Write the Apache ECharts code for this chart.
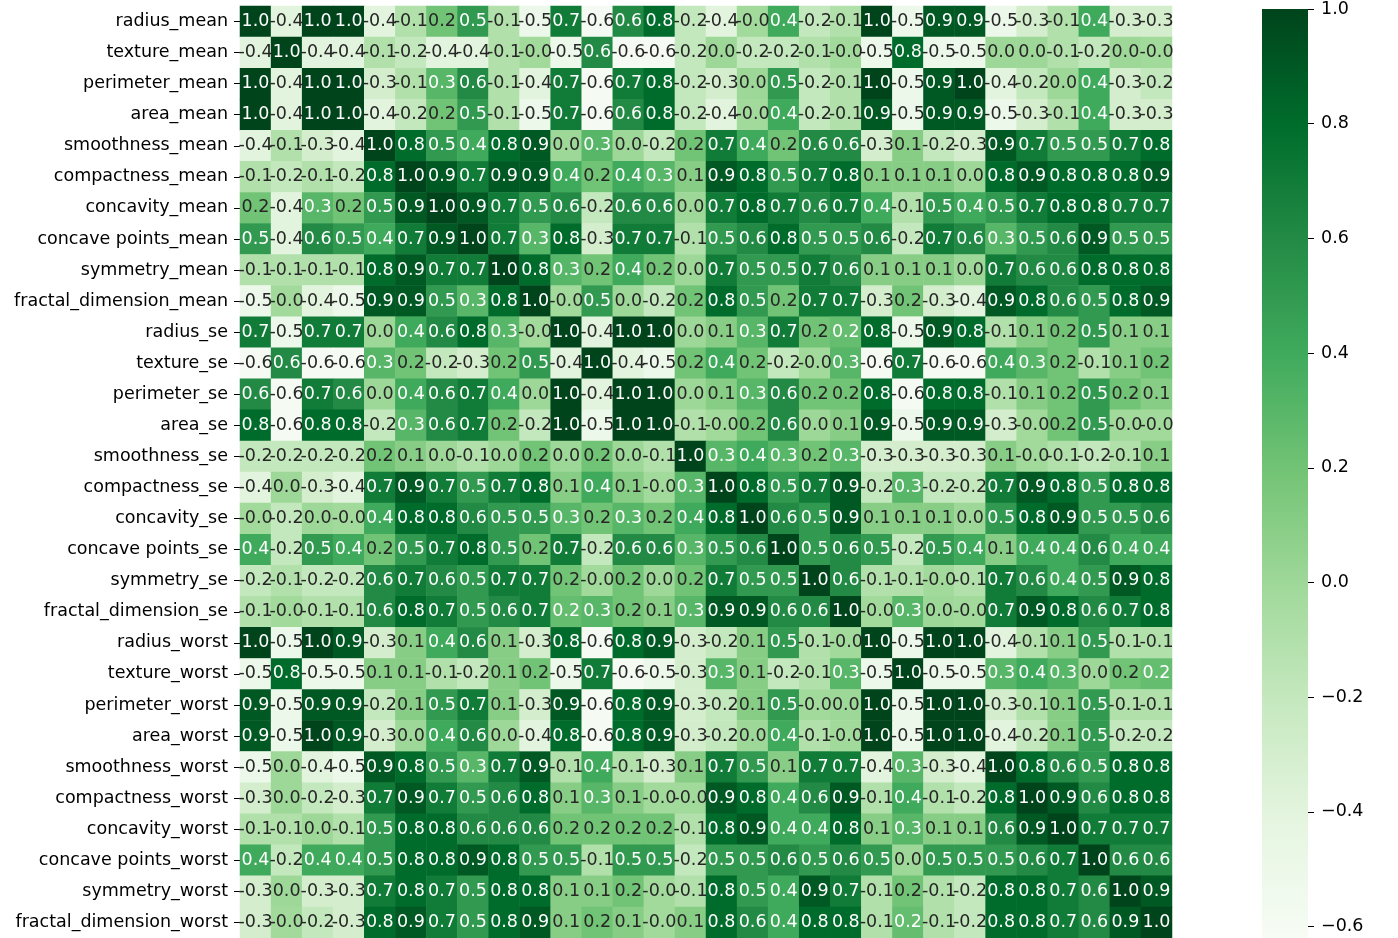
<!DOCTYPE html>
<html>
<head>
<meta charset="utf-8">
<script src="https://cdn.jsdelivr.net/npm/echarts@6/dist/echarts.min.js"></script>
<style>
  html, body { margin: 0; padding: 0; background: #ffffff; }
  #chart { width: 1398px; height: 938px; }
</style>
</head>
<body>
<div id="chart"></div>
<script>
// ---------- data ----------
const features = [
  'radius_mean', 'texture_mean', 'perimeter_mean', 'area_mean', 'smoothness_mean',
  'compactness_mean', 'concavity_mean', 'concave points_mean', 'symmetry_mean', 'fractal_dimension_mean',
  'radius_se', 'texture_se', 'perimeter_se', 'area_se', 'smoothness_se',
  'compactness_se', 'concavity_se', 'concave points_se', 'symmetry_se', 'fractal_dimension_se',
  'radius_worst', 'texture_worst', 'perimeter_worst', 'area_worst', 'smoothness_worst',
  'compactness_worst', 'concavity_worst', 'concave points_worst', 'symmetry_worst', 'fractal_dimension_worst'
];

const row_radius_mean = [1.0,-0.4,1.0,1.0,-0.4,-0.1,0.2,0.5,-0.1,-0.5, 0.7,-0.6,0.6,0.8,-0.2,-0.4,-0.02,0.4,-0.2,-0.1, 1.0,-0.5,0.9,0.9,-0.5,-0.3,-0.1,0.4,-0.3,-0.3];
const row_texture_mean = [-0.4,1.0,-0.4,-0.4,-0.1,-0.2,-0.4,-0.4,-0.1,-0.02, -0.5,0.6,-0.6,-0.6,-0.2,0.0,-0.2,-0.2,-0.1,-0.02, -0.5,0.8,-0.5,-0.5,0.0,0.0,-0.1,-0.2,0.0,-0.02];
const row_perimeter_mean = [1.0,-0.4,1.0,1.0,-0.3,-0.1,0.3,0.6,-0.1,-0.4, 0.7,-0.6,0.7,0.8,-0.2,-0.3,0.0,0.5,-0.2,-0.1, 1.0,-0.5,0.9,1.0,-0.4,-0.2,0.0,0.4,-0.3,-0.2];
const row_area_mean = [1.0,-0.4,1.0,1.0,-0.4,-0.2,0.2,0.5,-0.1,-0.5, 0.7,-0.6,0.6,0.8,-0.2,-0.4,-0.02,0.4,-0.2,-0.1, 0.9,-0.5,0.9,0.9,-0.5,-0.3,-0.1,0.4,-0.3,-0.3];
const row_smoothness_mean = [-0.4,-0.1,-0.3,-0.4,1.0,0.8,0.5,0.4,0.8,0.9, 0.0,0.3,0.0,-0.2,0.2,0.7,0.4,0.2,0.6,0.6, -0.3,0.1,-0.2,-0.3,0.9,0.7,0.5,0.5,0.7,0.8];
const row_compactness_mean = [-0.1,-0.2,-0.1,-0.2,0.8,1.0,0.9,0.7,0.9,0.9, 0.4,0.2,0.4,0.3,0.1,0.9,0.8,0.5,0.7,0.8, 0.1,0.1,0.1,0.0,0.8,0.9,0.8,0.8,0.8,0.9];
const row_concavity_mean = [0.2,-0.4,0.3,0.2,0.5,0.9,1.0,0.9,0.7,0.5, 0.6,-0.2,0.6,0.6,0.0,0.7,0.8,0.7,0.6,0.7, 0.4,-0.1,0.5,0.4,0.5,0.7,0.8,0.8,0.7,0.7];
const row_concave_points_mean = [0.5,-0.4,0.6,0.5,0.4,0.7,0.9,1.0,0.7,0.3, 0.8,-0.3,0.7,0.7,-0.1,0.5,0.6,0.8,0.5,0.5, 0.6,-0.2,0.7,0.6,0.3,0.5,0.6,0.9,0.5,0.5];
const row_symmetry_mean = [-0.1,-0.1,-0.1,-0.1,0.8,0.9,0.7,0.7,1.0,0.8, 0.3,0.2,0.4,0.2,0.0,0.7,0.5,0.5,0.7,0.6, 0.1,0.1,0.1,0.0,0.7,0.6,0.6,0.8,0.8,0.8];
const row_fractal_dimension_mean = [-0.5,-0.02,-0.4,-0.5,0.9,0.9,0.5,0.3,0.8,1.0, -0.02,0.5,0.0,-0.2,0.2,0.8,0.5,0.2,0.7,0.7, -0.3,0.2,-0.3,-0.4,0.9,0.8,0.6,0.5,0.8,0.9];
const row_radius_se = [0.7,-0.5,0.7,0.7,0.0,0.4,0.6,0.8,0.3,-0.02, 1.0,-0.4,1.0,1.0,0.0,0.1,0.3,0.7,0.2,0.249, 0.8,-0.5,0.9,0.8,-0.1,0.1,0.2,0.5,0.1,0.1];
const row_texture_se = [-0.6,0.6,-0.6,-0.6,0.3,0.2,-0.2,-0.3,0.2,0.5, -0.4,1.0,-0.4,-0.5,0.2,0.4,0.2,-0.2,-0.02,0.3, -0.6,0.7,-0.6,-0.6,0.4,0.3,0.2,-0.1,0.1,0.2];
const row_perimeter_se = [0.6,-0.6,0.7,0.6,0.0,0.4,0.6,0.7,0.4,0.0, 1.0,-0.4,1.0,1.0,0.0,0.1,0.3,0.6,0.2,0.2, 0.8,-0.6,0.8,0.8,-0.1,0.1,0.2,0.5,0.2,0.1];
const row_area_se = [0.8,-0.6,0.8,0.8,-0.2,0.3,0.6,0.7,0.2,-0.2, 1.0,-0.5,1.0,1.0,-0.1,-0.02,0.2,0.6,0.0,0.1, 0.9,-0.5,0.9,0.9,-0.3,-0.02,0.2,0.5,-0.02,-0.02];
const row_smoothness_se = [-0.2,-0.2,-0.2,-0.2,0.2,0.1,0.0,-0.1,0.0,0.2, 0.0,0.2,0.0,-0.1,1.0,0.3,0.4,0.3,0.2,0.3, -0.3,-0.3,-0.3,-0.3,0.1,-0.02,-0.1,-0.2,-0.1,0.1];
const row_compactness_se = [-0.4,0.0,-0.3,-0.4,0.7,0.9,0.7,0.5,0.7,0.8, 0.1,0.4,0.1,-0.02,0.3,1.0,0.8,0.5,0.7,0.9, -0.2,0.3,-0.2,-0.2,0.7,0.9,0.8,0.5,0.8,0.8];
const row_concavity_se = [-0.02,-0.2,0.0,-0.02,0.4,0.8,0.8,0.6,0.5,0.5, 0.3,0.2,0.3,0.2,0.4,0.8,1.0,0.6,0.5,0.9, 0.1,0.1,0.1,0.0,0.5,0.8,0.9,0.5,0.5,0.6];
const row_concave_points_se = [0.4,-0.2,0.5,0.4,0.2,0.5,0.7,0.8,0.5,0.2, 0.7,-0.2,0.6,0.6,0.3,0.5,0.6,1.0,0.5,0.6, 0.5,-0.2,0.5,0.4,0.1,0.4,0.4,0.6,0.4,0.4];
const row_symmetry_se = [-0.2,-0.1,-0.2,-0.2,0.6,0.7,0.6,0.5,0.7,0.7, 0.2,-0.02,0.2,0.0,0.2,0.7,0.5,0.5,1.0,0.6, -0.1,-0.1,-0.02,-0.1,0.7,0.6,0.4,0.5,0.9,0.8];
const row_fractal_dimension_se = [-0.1,-0.02,-0.1,-0.1,0.6,0.8,0.7,0.5,0.6,0.7, 0.249,0.3,0.2,0.1,0.3,0.9,0.9,0.6,0.6,1.0, -0.02,0.3,0.0,-0.02,0.7,0.9,0.8,0.6,0.7,0.8];
const row_radius_worst = [1.0,-0.5,1.0,0.9,-0.3,0.1,0.4,0.6,0.1,-0.3, 0.8,-0.6,0.8,0.9,-0.3,-0.2,0.1,0.5,-0.1,-0.02, 1.0,-0.5,1.0,1.0,-0.4,-0.1,0.1,0.5,-0.1,-0.1];
const row_texture_worst = [-0.5,0.8,-0.5,-0.5,0.1,0.1,-0.1,-0.2,0.1,0.2, -0.5,0.7,-0.6,-0.5,-0.3,0.3,0.1,-0.2,-0.1,0.3, -0.5,1.0,-0.5,-0.5,0.3,0.4,0.3,0.0,0.2,0.249];
const row_perimeter_worst = [0.9,-0.5,0.9,0.9,-0.2,0.1,0.5,0.7,0.1,-0.3, 0.9,-0.6,0.8,0.9,-0.3,-0.2,0.1,0.5,-0.02,0.0, 1.0,-0.5,1.0,1.0,-0.3,-0.1,0.1,0.5,-0.1,-0.1];
const row_area_worst = [0.9,-0.5,1.0,0.9,-0.3,0.0,0.4,0.6,0.0,-0.4, 0.8,-0.6,0.8,0.9,-0.3,-0.2,0.0,0.4,-0.1,-0.02, 1.0,-0.5,1.0,1.0,-0.4,-0.2,0.1,0.5,-0.2,-0.2];
const row_smoothness_worst = [-0.5,0.0,-0.4,-0.5,0.9,0.8,0.5,0.3,0.7,0.9, -0.1,0.4,-0.1,-0.3,0.1,0.7,0.5,0.1,0.7,0.7, -0.4,0.3,-0.3,-0.4,1.0,0.8,0.6,0.5,0.8,0.8];
const row_compactness_worst = [-0.3,0.0,-0.2,-0.3,0.7,0.9,0.7,0.5,0.6,0.8, 0.1,0.3,0.1,-0.02,-0.02,0.9,0.8,0.4,0.6,0.9, -0.1,0.4,-0.1,-0.2,0.8,1.0,0.9,0.6,0.8,0.8];
const row_concavity_worst = [-0.1,-0.1,0.0,-0.1,0.5,0.8,0.8,0.6,0.6,0.6, 0.2,0.2,0.2,0.2,-0.1,0.8,0.9,0.4,0.4,0.8, 0.1,0.3,0.1,0.1,0.6,0.9,1.0,0.7,0.7,0.7];
const row_concave_points_worst = [0.4,-0.2,0.4,0.4,0.5,0.8,0.8,0.9,0.8,0.5, 0.5,-0.1,0.5,0.5,-0.2,0.5,0.5,0.6,0.5,0.6, 0.5,0.0,0.5,0.5,0.5,0.6,0.7,1.0,0.6,0.6];
const row_symmetry_worst = [-0.3,0.0,-0.3,-0.3,0.7,0.8,0.7,0.5,0.8,0.8, 0.1,0.1,0.2,-0.02,-0.1,0.8,0.5,0.4,0.9,0.7, -0.1,0.2,-0.1,-0.2,0.8,0.8,0.7,0.6,1.0,0.9];
const row_fractal_dimension_worst = [-0.3,-0.02,-0.2,-0.3,0.8,0.9,0.7,0.5,0.8,0.9, 0.1,0.2,0.1,-0.02,0.1,0.8,0.6,0.4,0.8,0.8, -0.1,0.249,-0.1,-0.2,0.8,0.8,0.7,0.6,0.9,1.0];

const colorbarMin = -0.62;
const colorbarMax = 1.0;
const colorbarTicks = [-0.6, -0.4, -0.2, 0.0, 0.2, 0.4, 0.6, 0.8, 1.0];
const greens = ['#f7fcf5', '#e5f5e0', '#c7e9c0', '#a1d99b', '#74c476', '#41ab5d', '#238b45', '#006d2c', '#00441b'];

// ---------- build ----------
const matrix = [
  row_radius_mean, row_texture_mean, row_perimeter_mean, row_area_mean, row_smoothness_mean,
  row_compactness_mean, row_concavity_mean, row_concave_points_mean, row_symmetry_mean, row_fractal_dimension_mean,
  row_radius_se, row_texture_se, row_perimeter_se, row_area_se, row_smoothness_se,
  row_compactness_se, row_concavity_se, row_concave_points_se, row_symmetry_se, row_fractal_dimension_se,
  row_radius_worst, row_texture_worst, row_perimeter_worst, row_area_worst, row_smoothness_worst,
  row_compactness_worst, row_concavity_worst, row_concave_points_worst, row_symmetry_worst, row_fractal_dimension_worst
];

function hexToRgb(h) {
  return [parseInt(h.slice(1, 3), 16), parseInt(h.slice(3, 5), 16), parseInt(h.slice(5, 7), 16)];
}
const greensRgb = greens.map(hexToRgb);
function cmap(v) {
  let t = (v - colorbarMin) / (colorbarMax - colorbarMin);
  t = Math.max(0, Math.min(1, t));
  const pos = t * (greensRgb.length - 1);
  const i = Math.min(Math.floor(pos), greensRgb.length - 2);
  const f = pos - i;
  return greensRgb[i].map((c, k) => c + (greensRgb[i + 1][k] - c) * f);
}
function luminance(rgb) {
  const lin = rgb.map(c => {
    c = c / 255;
    return c <= 0.03928 ? c / 12.92 : Math.pow((c + 0.055) / 1.055, 2.4);
  });
  return 0.2126 * lin[0] + 0.7152 * lin[1] + 0.0722 * lin[2];
}

const heatData = [];
matrix.forEach((row, r) => {
  row.forEach((v, c) => {
    const lum = luminance(cmap(v));
    heatData.push({
      value: [c, r, v],
      label: { color: lum > 0.408 ? '#262626' : '#ffffff' }
    });
  });
});

const FONT = 'DejaVu Sans';
const FS = 17.5;
const chart = echarts.init(document.getElementById('chart'), null, { renderer: 'canvas' });

chart.setOption({
  backgroundColor: '#ffffff',
  animation: false,
  grid: [
    { left: 240, top: 6, width: 932, height: 932 },
    { left: 1262, top: 6, width: 46, height: 932 }
  ],
  xAxis: [
    { type: 'category', gridIndex: 0, data: features, show: false },
    { type: 'category', gridIndex: 1, data: ['cb'], show: false }
  ],
  yAxis: [
    {
      type: 'category', gridIndex: 0, data: features, inverse: true,
      axisLine: { show: false },
      axisTick: { show: true, length: 6, alignWithLabel: true, lineStyle: { color: '#000', width: 1 } },
      axisLabel: { fontSize: FS, color: '#000', fontFamily: FONT, margin: 12 },
      splitLine: { show: false }
    },
    {
      type: 'value', gridIndex: 1, position: 'right', min: colorbarMin, max: colorbarMax,
      axisLine: { show: false },
      axisTick: { show: true, length: 6, customValues: colorbarTicks, lineStyle: { color: '#000', width: 1 } },
      axisLabel: {
        fontSize: FS, color: '#000', fontFamily: FONT, margin: 13,
        customValues: colorbarTicks,
        formatter: v => Number(v).toFixed(1).replace('-', '\u2212')
      },
      splitLine: { show: false }
    }
  ],
  visualMap: {
    type: 'continuous', show: false, min: colorbarMin, max: colorbarMax,
    seriesIndex: 0, dimension: 2,
    inRange: { color: greens }
  },
  series: [
    {
      type: 'heatmap', xAxisIndex: 0, yAxisIndex: 0,
      data: heatData,
      label: {
        show: true, fontSize: FS, fontFamily: FONT,
        formatter: p => Number(p.value[2]).toFixed(1)
      },
      emphasis: { disabled: true }
    },
    {
      type: 'custom', xAxisIndex: 1, yAxisIndex: 1,
      data: [[0, colorbarMin, colorbarMax]],
      encode: { x: 0, y: [1, 2] },
      renderItem: function (params, api) {
        const lo = api.coord([api.value(0), api.value(1)]);
        const hi = api.coord([api.value(0), api.value(2)]);
        const w = api.size([1, 0])[0];
        const stops = greens.map((c, i) => ({ offset: 1 - i / (greens.length - 1), color: c }));
        stops.reverse();
        return {
          type: 'rect',
          shape: { x: lo[0] - w / 2, y: hi[1], width: w, height: lo[1] - hi[1] },
          style: { fill: new echarts.graphic.LinearGradient(0, 0, 0, 1, stops) }
        };
      },
      silent: true
    }
  ]
});
</script>
</body>
</html>
